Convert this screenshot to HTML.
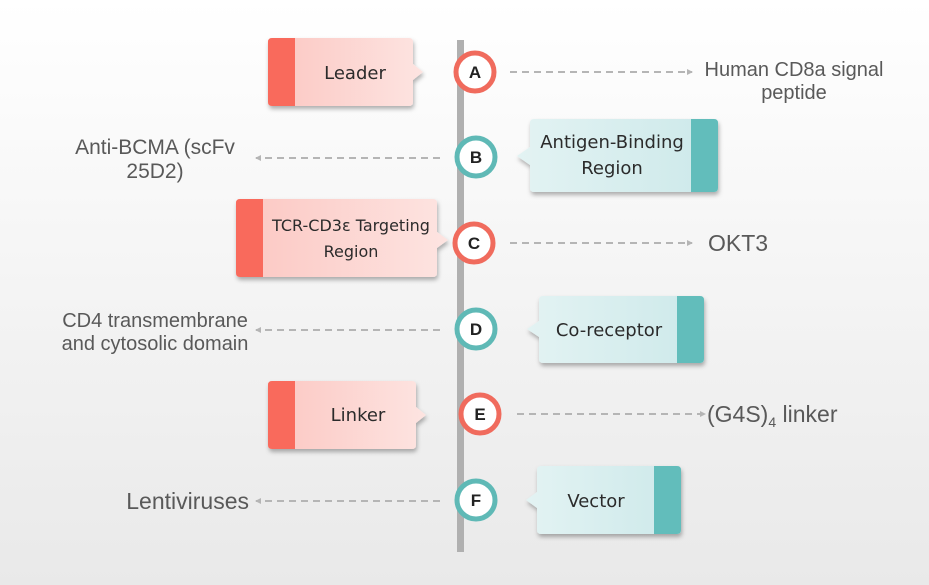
<!DOCTYPE html>
<html><head><meta charset="utf-8"><style>
html,body{margin:0;padding:0;}
body{width:929px;height:585px;overflow:hidden;background:linear-gradient(#ffffff,#e9e9e9);}
svg{display:block;font-family:"Liberation Sans",sans-serif;}
.lbl{font-family:"DejaVu Sans","Liberation Sans",sans-serif;font-size:18px;fill:#2b2b2b;}
.t{font-size:20px;fill:#595959;}
.t2{font-size:23px;fill:#595959;}
.cl{font-size:17px;font-weight:bold;fill:#222;text-anchor:middle;}
</style></head><body>
<svg width="929" height="585" viewBox="0 0 929 585">
<defs>
<linearGradient id="rg" x1="0" x2="1"><stop offset="0" stop-color="#fcc7c2"/><stop offset="1" stop-color="#fde4e1"/></linearGradient>
<linearGradient id="tg" x1="0" x2="1"><stop offset="0" stop-color="#e3f3f3"/><stop offset="1" stop-color="#cde9ea"/></linearGradient>
<filter id="sh" x="-10%" y="-10%" width="130%" height="140%"><feDropShadow dx="1" dy="3" stdDeviation="2" flood-color="#000" flood-opacity="0.3"/></filter>
<marker id="ar" markerWidth="6" markerHeight="6" refX="5" refY="3" orient="auto" markerUnits="userSpaceOnUse"><path d="M0,0 L6,3 L0,6 Z" fill="#b5b5b5"/></marker>
</defs>
<rect x="457" y="40" width="7" height="512" fill="#b0b0b0"/>
<g stroke="#b5b5b5" stroke-width="2" stroke-dasharray="7,5" fill="none" marker-end="url(#ar)">
<line x1="510" y1="72" x2="692" y2="72"/>
<line x1="440" y1="158" x2="256" y2="158"/>
<line x1="510" y1="243" x2="692" y2="243"/>
<line x1="440" y1="330" x2="256" y2="330"/>
<line x1="517" y1="414" x2="705" y2="414"/>
<line x1="440" y1="501" x2="256" y2="501"/>
</g>
<g filter="url(#sh)">
<path d="M272,38 H409 Q413,38 413,42 V64 L423,72 L413,80 V102 Q413,106 409,106 H272 Q268,106 268,102 V42 Q268,38 272,38Z" fill="url(#rg)"/>
<path d="M240,199 H433 Q437,199 437,203 V232 L448,240 L437,248 V273 Q437,277 433,277 H240 Q236,277 236,273 V203 Q236,199 240,199Z" fill="url(#rg)"/>
<path d="M272,381 H412 Q416,381 416,385 V407 L426,415 L416,423 V445 Q416,449 412,449 H272 Q268,449 268,445 V385 Q268,381 272,381Z" fill="url(#rg)"/>
<path d="M534,119 H714 Q718,119 718,123 V188 Q718,192 714,192 H534 Q530,192 530,188 V165 L517,156 L530,147 V123 Q530,119 534,119Z" fill="url(#tg)"/>
<path d="M543,296 H700 Q704,296 704,300 V359 Q704,363 700,363 H543 Q539,363 539,359 V337 L527,329 L539,321 V300 Q539,296 543,296Z" fill="url(#tg)"/>
<path d="M541,466 H677 Q681,466 681,470 V530 Q681,534 677,534 H541 Q537,534 537,530 V508 L526,500 L537,492 V470 Q537,466 541,466Z" fill="url(#tg)"/>
</g>
<path d="M272,38 H295 V106 H272 Q268,106 268,102 V42 Q268,38 272,38Z" fill="#f96a5c"/>
<path d="M240,199 H263 V277 H240 Q236,277 236,273 V203 Q236,199 240,199Z" fill="#f96a5c"/>
<path d="M272,381 H295 V449 H272 Q268,449 268,445 V385 Q268,381 272,381Z" fill="#f96a5c"/>
<path d="M691,119 H714 Q718,119 718,123 V188 Q718,192 714,192 H691Z" fill="#62bdbb"/>
<path d="M677,296 H700 Q704,296 704,300 V359 Q704,363 700,363 H677Z" fill="#62bdbb"/>
<path d="M654,466 H677 Q681,466 681,470 V530 Q681,534 677,534 H654Z" fill="#62bdbb"/>
<g class="lbl" text-anchor="middle">
<text x="355" y="79">Leader</text>
<text x="351" y="231" font-size="16">TCR-CD3ε Targeting</text>
<text x="351" y="257" font-size="16">Region</text>
<text x="358" y="421">Linker</text>
<text x="612" y="148">Antigen-Binding</text>
<text x="612" y="174">Region</text>
<text x="609" y="336">Co-receptor</text>
<text x="596" y="507">Vector</text>
</g>
<g stroke-width="5" fill="#fff">
<circle cx="475" cy="72" r="19" stroke="#f06b5d"/>
<circle cx="476" cy="157" r="19" stroke="#5fb9b6"/>
<circle cx="474" cy="243" r="19" stroke="#f06b5d"/>
<circle cx="476" cy="329" r="19" stroke="#5fb9b6"/>
<circle cx="480" cy="414" r="19" stroke="#f06b5d"/>
<circle cx="476" cy="500" r="19" stroke="#5fb9b6"/>
</g>
<g class="cl">
<text x="475" y="78">A</text>
<text x="476" y="163">B</text>
<text x="474" y="249">C</text>
<text x="476" y="335">D</text>
<text x="480" y="420">E</text>
<text x="476" y="506">F</text>
</g>
<g class="t" text-anchor="middle">
<text x="794" y="76">Human CD8a signal</text>
<text x="794" y="99">peptide</text>
<text x="155" y="154" font-size="21">Anti-BCMA (scFv</text>
<text x="155" y="178" font-size="21">25D2)</text>
<text x="155" y="327">CD4 transmembrane</text>
<text x="155" y="350">and cytosolic domain</text>
</g>
<text class="t2" x="708" y="251">OKT3</text>
<text class="t2" x="707" y="422" font-size="22">(G4S)<tspan font-size="14" dy="5">4</tspan><tspan dy="-5"> linker</tspan></text>
<text class="t2" x="249" y="509" text-anchor="end">Lentiviruses</text>
</svg>
</body></html>
